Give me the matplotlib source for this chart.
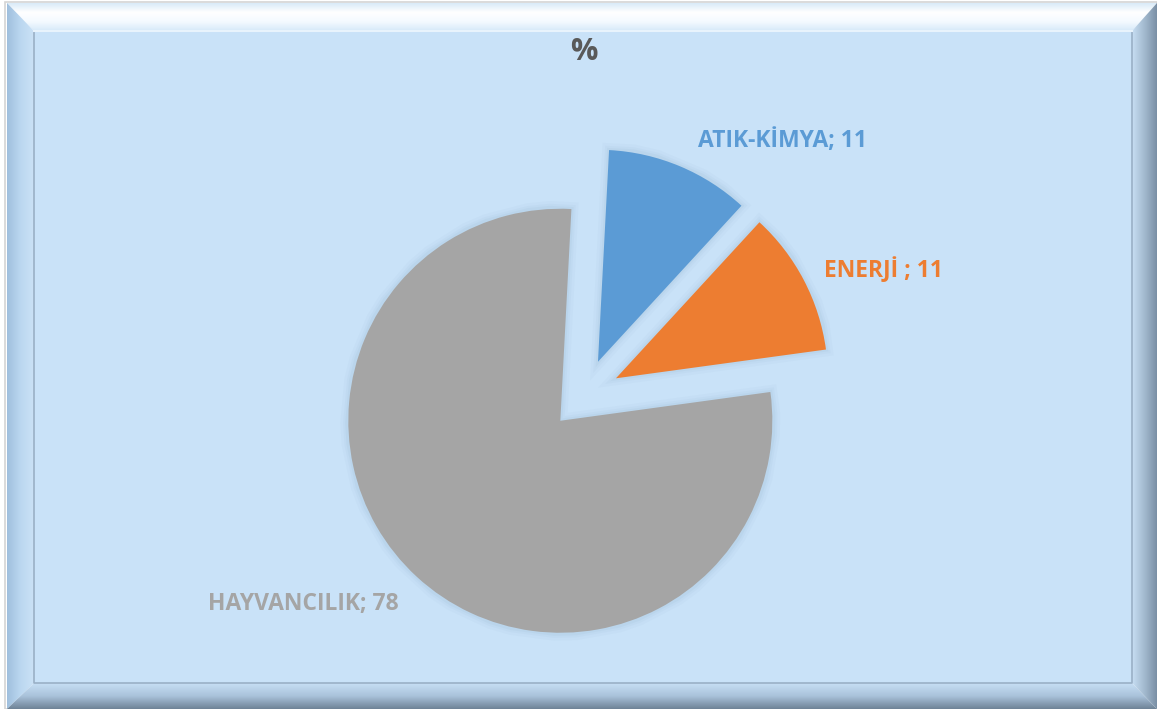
import matplotlib
matplotlib.use("Agg")
import matplotlib.pyplot as plt
import numpy as np
from matplotlib.patches import Polygon, Rectangle
from matplotlib.colors import LinearSegmentedColormap

# ---- data ----
categories = ["ATIK-KİMYA", "ENERJİ ", "HAYVANCILIK"]
values = [11, 11, 78]
colors = ["#5B9BD5", "#ED7D31", "#A5A5A5"]
explode_frac = [0.17, 0.17, 0.165]
title = "%"

W, H = 1157, 709
fig = plt.figure(figsize=(W / 100, H / 100), dpi=100)
fig.patch.set_facecolor("white")
ax = fig.add_axes([0, 0, 1, 1])

def Y(y):  # image y -> data y
    return H - y

# ---- frame ----
ox0, ox1, oy0, oy1 = 7, 1157, 3, 709
ix0, ix1, iy0, iy1 = 34, 1132, 31, 683
ax.add_patch(Rectangle((5, Y(709)), 1152, 707, facecolor="none",
                       edgecolor="#D4D4D4", lw=1.2, zorder=0))
ax.add_patch(Rectangle((ix0, Y(iy1)), ix1 - ix0, iy1 - iy0,
                       facecolor="#C9E2F8", edgecolor="none", zorder=0))

def grad_poly(pts, cols, vertical, ext):
    poly = Polygon([(x, Y(y)) for x, y in pts], closed=True,
                   facecolor="none", edgecolor="none")
    ax.add_patch(poly)
    cmap = LinearSegmentedColormap.from_list("g", cols)
    g = np.linspace(0, 1, 256)
    arr = g[:, None] if vertical else g[None, :]
    x0, x1, y0, y1 = ext
    im = ax.imshow(arr, cmap=cmap, extent=(x0, x1, Y(y1), Y(y0)),
                   origin="upper" if vertical else "lower", aspect="auto",
                   interpolation="bilinear", zorder=1)
    im.set_clip_path(poly)

# top
grad_poly([(ox0, oy0), (ox1, oy0), (ix1, iy0), (ix0, iy0)],
          ["#D8EAF8", "#FFFFFF", "#F4FAFF", "#D6E9F9"], True, (ox0, ox1, oy0, iy0))
# left
grad_poly([(ox0, oy0), (ix0, iy0), (ix0, iy1), (ox0, oy1)],
          ["#9FBFDD", "#BBD7F0", "#CBE2F6"], False, (ox0, ix0, oy0, oy1))
# bottom
grad_poly([(ox0, oy1), (ix0, iy1), (ix1, iy1), (ox1, oy1)],
          ["#C7DFF4", "#A9C2DA", "#6E8296"], True, (ox0, ox1, iy1, oy1))
# right
grad_poly([(ox1, oy0), (ix1, iy0), (ix1, iy1), (ox1, oy1)],
          ["#C8DFF4", "#A3BACF", "#7A8FA5"], False, (ix1, ox1, oy0, oy1))
# inner edge line
ax.plot([ix0, ix0, ix1, ix1, ix0], [Y(iy0), Y(iy1), Y(iy1), Y(iy0), Y(iy0)],
        color="#9AB0C6", lw=1.2, zorder=2)
ax.plot([ix0, ix1], [Y(iy0), Y(iy0)], color="#E8F3FC", lw=1.5, zorder=2)

# ---- pie ----
cx, cy, r = 584, 395, 212
explode = [e * r for e in explode_frac]
wedges, _ = ax.pie(values, colors=colors, startangle=87, counterclock=False,
                   center=(cx, Y(cy)), radius=r, explode=explode,
                   wedgeprops=dict(linewidth=0, zorder=5), frame=True)
# soft shadow
for w in wedges:
    for lw, a in [(10, 0.03), (6, 0.04), (3, 0.05)]:
        sh = Polygon(w.get_path().vertices, closed=True, transform=w.get_transform(),
                     facecolor="none", edgecolor="#5A7FA0", lw=lw, alpha=a, zorder=4)
        ax.add_patch(sh)

ax.set_xlim(0, W)
ax.set_ylim(0, H)
ax.set_aspect("equal")
ax.axis("off")

# ---- labels ----
label_pos = [(782, 141), (883, 270), (303, 604)]
for cat, v, c, (lx, ly) in zip(categories, values, colors, label_pos):
    ax.text(lx, Y(ly), f"{cat}; {v}", color=c, fontsize=16.5, fontweight="bold",
            family=["Open Sans", "DejaVu Sans"], ha="center", va="center", zorder=10)

ax.text(584, Y(52), title, color="#595959", fontsize=22, fontweight="bold",
        family=["Open Sans", "DejaVu Sans"], ha="center", va="center", zorder=10)

fig.savefig("out.png", dpi=100)
